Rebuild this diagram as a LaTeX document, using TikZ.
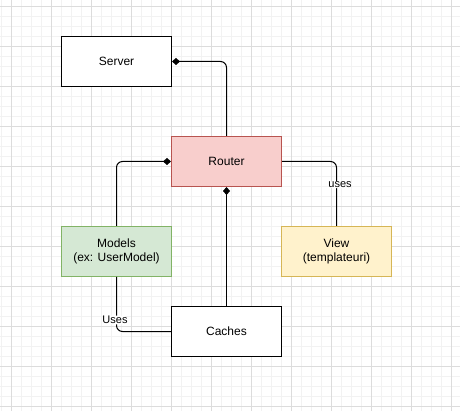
\documentclass[tikz,border=0pt]{standalone}
\usepackage{fontspec}
\setmainfont{Liberation Sans}
\usetikzlibrary{arrows.meta}
\definecolor{routerfill}{HTML}{F8CECC}
\definecolor{routerdraw}{HTML}{B85450}
\definecolor{modelfill}{HTML}{D5E8D4}
\definecolor{modeldraw}{HTML}{82B366}
\definecolor{viewfill}{HTML}{FFF2CC}
\definecolor{viewdraw}{HTML}{D6B656}
\definecolor{gridminor}{HTML}{F2F2F2}
\definecolor{gridmajor}{HTML}{DCDCDC}
\tikzset{
  box/.style={draw=black, fill=white, line width=1pt, minimum width=110pt, minimum height=50pt,
    inner sep=0pt, align=center, font=\fontsize{12}{14}\selectfont},
  conn/.style={line width=1pt, rounded corners=6pt},
  dtip/.style={-{Diamond[length=8pt,width=7pt]}},
  elabel/.style={fill=white, inner sep=0.5pt, font=\fontsize{11}{13}\selectfont}
}
\begin{document}
\begin{tikzpicture}[x=1pt,y=-1pt]
\useasboundingbox (0,0) rectangle (460,411);
\fill[white] (0,0) rectangle (460,411);
% grid
\foreach \gx in {1.5,11.5,...,451.5} \draw[gridminor, line width=1pt] (\gx,0) -- (\gx,411);
\foreach \gy in {6.5,16.5,...,406.5} \draw[gridminor, line width=1pt] (0,\gy) -- (460,\gy);
\foreach \gx in {11.5,51.5,...,451.5} \draw[gridmajor, line width=1pt] (\gx,0) -- (\gx,411);
\foreach \gy in {6.5,46.5,...,406.5} \draw[gridmajor, line width=1pt] (0,\gy) -- (460,\gy);
% nodes
\node[box] (server) at (116.5,61.5) {Server};
\node[box, fill=routerfill, draw=routerdraw] (router) at (226.5,161.5) {Router};
\node[box, fill=modelfill, draw=modeldraw] (models) at (116.5,251.5) {Models\\(ex: UserModel)};
\node[box, fill=viewfill, draw=viewdraw] (view) at (336.5,251.5) {View\\(templateuri)};
\node[box] (caches) at (226.5,331.5) {Caches};
% connectors
\draw[conn, dtip] (router.north) |- (server.east);
\draw[conn, dtip] (models.north) |- (router.west);
\draw[conn, dtip] (caches.north) -- (router.south);
\draw[conn] (router.east) -| node[elabel, pos=0.68, xshift=3.5pt] (lbluses) {uses} (view.north);
\draw[conn] (models.south) |- node[elabel, pos=0.395, xshift=-1.5pt] (lblUses) {Uses} (caches.west);
\end{tikzpicture}
\end{document}
